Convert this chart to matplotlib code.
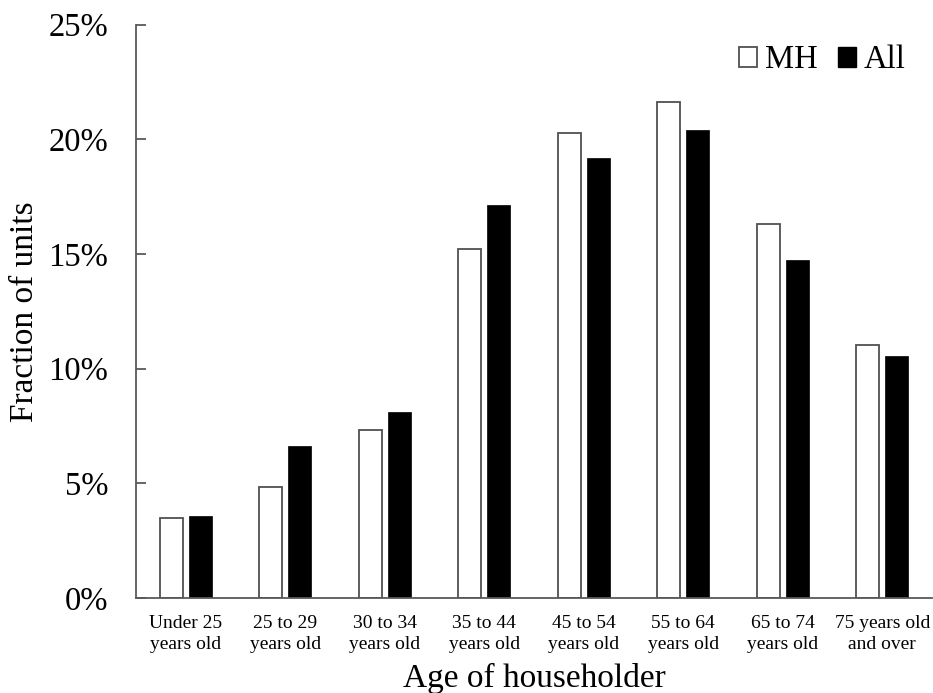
import matplotlib
matplotlib.use("Agg")
import matplotlib.pyplot as plt
import numpy as np
from matplotlib.patches import Patch
from matplotlib.ticker import FuncFormatter

categories = ["Under 25\nyears old", "25 to 29\nyears old", "30 to 34\nyears old",
              "35 to 44\nyears old", "45 to 54\nyears old", "55 to 64\nyears old",
              "65 to 74\nyears old", "75 years old\nand over"]
mh = [3.48, 4.83, 7.32, 15.20, 20.25, 21.60, 16.29, 11.02]
all_units = [3.57, 6.62, 8.10, 17.12, 19.16, 20.38, 14.72, 10.54]
yticks = [0, 5, 10, 15, 20, 25]

plt.rcParams['font.family'] = ['Liberation Serif', 'DejaVu Serif']

fig = plt.figure(figsize=(9.33, 6.93), dpi=100)
ax = fig.add_axes([136/933, 1-598/693, (932-136)/933, (598-24.5)/693])

x = np.arange(len(categories))
w = 0.23
off = 0.145
ax.bar(x - off, mh, w, facecolor='white', edgecolor='#505050', linewidth=1.3)
ax.bar(x + off, all_units, w, facecolor='black', edgecolor='black', linewidth=0.5)

ax.set_xlim(-0.5, len(categories) - 0.5)
ax.set_ylim(0, 25)
ax.set_yticks(yticks)
ax.yaxis.set_major_formatter(FuncFormatter(lambda v, p: f"{int(v)}%"))
ax.set_xticks(x)
ax.set_xticklabels(categories, fontsize=14, linespacing=1.35)

for s in ['top', 'right']:
    ax.spines[s].set_visible(False)
for s in ['left', 'bottom']:
    ax.spines[s].set_color('#595959')
    ax.spines[s].set_linewidth(1.3)

ax.tick_params(axis='y', direction='in', length=7, width=1.3, color='#595959',
               labelsize=23.5, pad=20)
ax.tick_params(axis='x', length=0, pad=12)

ax.set_xlabel("Age of householder", fontsize=24, labelpad=7)
ax.set_ylabel("Fraction of units", fontsize=24, labelpad=6)

handles = [Patch(facecolor='white', edgecolor='#505050', linewidth=1.3, label='MH'),
           Patch(facecolor='black', edgecolor='black', label='All')]
ax.legend(handles=handles, ncol=2, frameon=False, fontsize=23.5,
          handlelength=0.55, handleheight=0.55, handletextpad=0.25,
          columnspacing=0.6, loc='center right', bbox_to_anchor=(0.967, 0.938),
          borderpad=0, borderaxespad=0)

fig.savefig("out.png", dpi=100)
